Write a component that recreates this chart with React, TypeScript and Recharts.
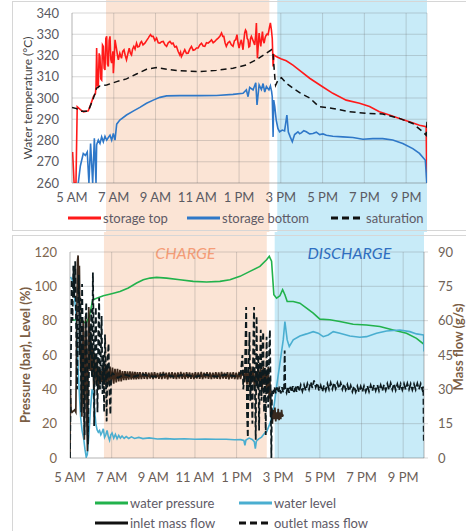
import React from 'react';
import { LineChart, Line, XAxis, YAxis, CartesianGrid, ReferenceArea, Legend } from 'recharts';

const FONT = 'Lato, "Open Sans", "DejaVu Sans", sans-serif';

// time axis (hours of the day)
const hourTicks = [5, 7, 9, 11, 13, 15, 17, 19, 21];
const hourLabels = ['5 AM', '7 AM', '9 AM', '11 AM', '1 PM', '3 PM', '5 PM', '7 PM', '9 PM'];
const chargeWindow = [6.63, 14.45];
const dischargeWindow = [14.83, 22];

const tempTicks = [260, 270, 280, 290, 300, 310, 320, 330, 340];
const pressureTicks = [0, 20, 40, 60, 80, 100, 120];
const flowTicks = [0, 15, 30, 45, 60, 75, 90];

type Row = [number, number];

// ---- storage temperatures (°C) ----
const storageTop: Row[] = [
  [5.03, 274.6], [5.1, 260], [5.19, 260], [5.25, 295.9], [5.4, 294.5], [5.55, 293.5], [5.78, 294], [5.9, 297],
  [6.02, 300.5], [6.12, 302], [6.15, 305.4], [6.18, 323.5], [6.22, 306], [6.26, 305.4], [6.3, 321], [6.34, 319.5],
  [6.38, 309], [6.42, 308.5], [6.46, 325], [6.5, 324.3], [6.54, 314], [6.58, 313.2], [6.62, 328], [6.66, 329],
  [6.7, 316], [6.74, 314.8], [6.78, 327], [6.82, 329], [6.86, 318], [6.9, 316.4], [6.96, 322], [6.98, 311.7],
  [7.02, 318], [7.06, 327.4], [7.1, 325], [7.14, 322.7], [7.18, 320], [7.22, 318], [7.29, 321.1], [7.37, 318.7],
  [7.43, 322], [7.49, 322.7], [7.55, 320], [7.61, 318], [7.68, 321], [7.74, 323.5], [7.8, 321], [7.85, 320.3],
  [7.9, 323], [7.96, 324.3], [8.02, 323], [8.09, 325.8], [8.15, 324], [8.22, 324.3], [8.28, 326], [8.33, 326.6],
  [8.4, 325], [8.49, 325.8], [8.57, 327], [8.65, 328.2], [8.7, 329], [8.76, 329.8], [8.82, 329], [8.89, 329],
  [8.97, 327], [9.05, 328.2], [9.13, 326], [9.21, 325.8], [9.29, 326.5], [9.37, 326.6], [9.45, 325], [9.53, 324.3],
  [9.61, 326], [9.69, 326.6], [9.77, 325.5], [9.84, 325.8], [9.92, 324], [10.0, 324.3], [10.08, 322], [10.16, 320.3],
  [10.2, 321.5], [10.24, 319.5], [10.32, 321], [10.4, 322.7], [10.48, 321], [10.56, 321.1], [10.64, 323], [10.72, 324.3],
  [10.8, 322.5], [10.88, 322.7], [10.96, 323.5], [11.04, 323.5], [11.12, 325], [11.2, 325.8], [11.28, 324.5], [11.36, 324.3],
  [11.44, 326], [11.52, 325.8], [11.6, 326.5], [11.68, 327.4], [11.76, 326], [11.84, 326.6], [11.92, 327.5], [12.0, 328.2],
  [12.08, 329], [12.16, 330.6], [12.22, 329], [12.27, 329], [12.33, 326], [12.39, 324.3], [12.47, 326], [12.55, 326.6],
  [12.63, 325], [12.71, 324.3], [12.78, 327], [12.84, 327.4], [12.9, 329.8], [12.95, 326], [13.0, 323.5], [13.06, 326],
  [13.11, 327.4], [13.15, 325], [13.19, 322.7], [13.23, 327], [13.27, 330.6], [13.31, 332], [13.35, 331.3], [13.39, 328],
  [13.43, 327.4], [13.47, 324], [13.51, 324.3], [13.55, 328], [13.59, 329], [13.67, 327], [13.75, 325], [13.8, 330],
  [13.83, 335.3], [13.86, 324], [13.88, 318.7], [13.92, 325], [13.96, 330.6], [14.0, 327], [14.04, 324.3], [14.08, 328],
  [14.12, 331.3], [14.16, 327], [14.2, 325.8], [14.24, 328], [14.27, 329], [14.33, 330], [14.39, 329.8], [14.45, 333],
  [14.5, 335.3], [14.55, 332], [14.59, 328], [14.63, 314.8], [14.67, 320.3], [14.78, 319.5], [15.0, 318.5], [15.26, 317.5],
  [15.58, 315.5], [15.9, 313], [16.38, 309.3], [16.98, 305.4], [17.49, 302.2], [18.13, 299], [18.77, 297.5], [19.25, 296],
  [19.72, 293.5], [20.2, 292], [20.68, 290.4], [21.16, 288.8], [21.64, 287.2], [21.96, 286.5], [21.99, 260],
];

const storageBottom: Row[] = [
  [5.3, 260], [5.4, 268], [5.54, 273.9], [5.64, 273], [5.73, 274.6], [5.81, 260], [5.89, 278.6], [5.99, 260],
  [6.07, 281], [6.15, 260], [6.18, 278], [6.26, 280.2], [6.34, 278.6], [6.42, 281.7], [6.5, 279.4], [6.58, 282],
  [6.66, 280.2], [6.74, 281.4], [6.82, 282.5], [6.9, 280.2], [6.98, 283.3], [7.06, 280.2], [7.14, 287.7], [7.29, 289.6],
  [7.61, 292], [7.93, 293.8], [8.25, 295.6], [8.57, 297.5], [8.89, 299], [9.21, 300.3], [9.53, 301], [10.16, 301.1],
  [11.12, 301.1], [11.92, 301.2], [12.71, 301.7], [13.19, 302.2], [13.35, 303.8], [13.43, 300.6], [13.51, 305], [13.67, 303.8],
  [13.8, 307.2], [13.86, 296.7], [13.96, 306.2], [14.07, 304], [14.15, 306.8], [14.23, 302.8], [14.31, 305.4], [14.43, 303.8],
  [14.5, 305.7], [14.56, 303], [14.59, 300.6], [14.63, 281.7], [14.66, 299], [14.71, 295.9], [14.78, 289.6], [14.86, 285.7],
  [14.94, 284.1], [15.07, 284.9], [15.18, 284.5], [15.29, 292], [15.36, 284], [15.45, 281.7], [15.55, 279.4], [15.66, 282.8],
  [15.82, 284.1], [15.9, 283.2], [15.98, 283.6], [16.1, 284.6], [16.22, 284.1], [16.38, 283.1], [16.54, 283.3], [16.7, 283.9],
  [16.86, 282.8], [17.02, 283.1], [17.18, 282.5], [17.49, 282], [17.97, 281.7], [18.45, 281.4], [18.93, 280.6], [19.41, 280.9],
  [19.88, 280.9], [20.36, 280.2], [20.84, 278.6], [21.32, 276.2], [21.64, 273.9], [21.92, 270.7], [21.99, 260],
];

const saturation: Row[] = [
  [5.0, 295.6], [5.22, 295], [5.4, 293.8], [5.78, 293.8], [6.02, 299.8], [6.18, 304.6], [6.34, 305.7], [6.66, 306.1],
  [7.14, 307.7], [7.61, 309], [8.09, 311.3], [8.57, 313.5], [9.05, 314.3], [9.53, 313.5], [10.16, 312.8], [11.12, 312.4],
  [11.92, 313], [12.71, 314], [13.35, 315.6], [13.83, 318], [14.31, 321.1], [14.55, 322.7], [14.63, 320.3], [14.71, 310],
  [14.75, 306], [14.87, 308.5], [15.03, 309.5], [15.26, 307], [15.58, 304.6], [15.9, 302.5], [16.38, 300], [16.82, 296],
  [17.49, 295.1], [18.29, 293.5], [19.09, 292.8], [19.88, 292.5], [20.68, 290.4], [21.32, 288], [21.8, 284.1], [21.96, 282.5],
  [22.0, 288.8],
];

// ---- pressure (bar) and level (%) ----
const waterPressure: Row[] = [
  [5.03, 80.5], [5.56, 80.1], [5.77, 78.5], [5.93, 82.4], [6.09, 92.1], [6.28, 93.1], [6.6, 94.5], [7.0, 95.7],
  [7.4, 97], [7.8, 99], [8.2, 101.9], [8.52, 103.8], [8.84, 104.8], [9.16, 105.2], [9.64, 104.8], [10.28, 103.8],
  [10.92, 102.9], [11.56, 102.5], [12.2, 102.9], [12.68, 103.8], [13.16, 105.8], [13.64, 108.7], [14.12, 111.6], [14.44, 115.5],
  [14.57, 117.5], [14.68, 114.6], [14.79, 95.1], [14.92, 93.1], [15.08, 94.5], [15.21, 98], [15.32, 95.1], [15.43, 91.2],
  [15.72, 91.2], [16.04, 90.2], [16.36, 87.3], [16.68, 84.4], [17.0, 80.9], [17.48, 80.5], [17.96, 79.5], [18.6, 77.9],
  [19.24, 77.5], [19.88, 76.6], [20.52, 74.6], [21.16, 72.7], [21.64, 69.7], [22.0, 66.2],
];

const waterLevel: Row[] = [
  [5.02, 105.5], [5.1, 104], [5.16, 100], [5.22, 93], [5.29, 84], [5.35, 66], [5.4, 50], [5.46, 35],
  [5.51, 24], [5.58, 16], [5.66, 11], [5.72, 5], [5.78, 0.5], [5.83, 2], [5.9, 12], [5.98, 28],
  [6.06, 40], [6.12, 38], [6.18, 28], [6.24, 20], [6.3, 16.5], [6.36, 15], [6.42, 16], [6.48, 13.5],
  [6.54, 15], [6.6, 17], [6.66, 12], [6.72, 13.5], [6.78, 16], [6.84, 12.5], [6.9, 10.3], [6.96, 13.5],
  [7.02, 14.5], [7.1, 11.5], [7.18, 13.8], [7.26, 11.2], [7.34, 13.2], [7.42, 11.6], [7.5, 12.8], [7.6, 11.4],
  [7.7, 12.5], [7.82, 11.4], [7.95, 12.3], [8.1, 11.4], [8.3, 12], [8.5, 11.3], [8.8, 11.7], [9.2, 11.1],
  [9.6, 11.3], [10.0, 11.0], [10.5, 11.2], [11.0, 10.9], [11.5, 11.0], [12.0, 10.9], [12.5, 10.9], [12.9, 10.6],
  [13.2, 10.7], [13.35, 10.2], [13.4, 7.4], [13.45, 10.5], [13.6, 11.6], [13.75, 10.8], [13.85, 9.5], [13.9, 5.5],
  [13.95, 9.8], [14.05, 11], [14.2, 12.2], [14.35, 14.5], [14.44, 15.2], [14.6, 20], [14.76, 26.9], [14.92, 41.5],
  [15.08, 55.1], [15.24, 68.8], [15.32, 79.5], [15.43, 68.8], [15.53, 64.9], [15.72, 68.8], [16.04, 71.1], [16.36, 72.3],
  [16.68, 73.6], [16.92, 72.7], [17.16, 70.7], [17.4, 71.7], [17.64, 73.6], [17.96, 72.7], [18.44, 71.1], [18.92, 70.3],
  [19.24, 70.7], [19.72, 72.7], [20.2, 74], [20.84, 74.6], [21.32, 73.6], [21.64, 72.3], [21.98, 71.7], [22.0, 62],
];

// ---- mass flows (g/s) ----
const inletFlow: Row[] = [
  [5.0, 0], [5.02, 28], [5.05, 21], [5.1, 20], [5.16, 20.5], [5.22, 21], [5.28, 20], [5.32, 55],
  [5.36, 86], [5.39, 88.5], [5.42, 75], [5.45, 84], [5.48, 60], [5.51, 38], [5.54, 50], [5.57, 18],
  [5.6, 32], [5.63, 60], [5.66, 45], [5.69, 8], [5.72, 38], [5.75, 62], [5.78, 50], [5.81, 15],
  [5.84, 3], [5.87, 40], [5.9, 66], [5.93, 56], [5.96, 38], [5.99, 55], [6.02, 47], [6.05, 36],
  [6.08, 50], [6.11, 40], [6.14, 30], [6.18, 46], [6.22, 38], [6.26, 32], [6.3, 44], [6.34, 36],
  [6.38, 30], [6.42, 40], [6.46, 33], [6.5, 38], [6.55, 33], [6.6, 40.5], [6.65, 32], [6.7, 41],
  [6.75, 31.5], [6.8, 40.5], [6.86, 32], [6.92, 40], [6.98, 32.5], [7.04, 39.5], [7.1, 32.5], [7.16, 39],
  [7.22, 33], [7.28, 39], [7.34, 33.5], [7.4, 38.5], [7.46, 33.5], [7.52, 38], [7.58, 34], [7.64, 38],
  [7.7, 34], [7.76, 37.8], [7.82, 34.2], [7.88, 37.8], [7.94, 34.3], [8.0, 37.7], [8.06, 34.4], [8.12, 37.6],
  [8.18, 34.4], [8.24, 37.5], [8.3, 34.5], [8.36, 37.5], [8.43, 34.5], [8.5, 37.4], [8.57, 34.6], [8.64, 37.5],
  [8.71, 34.5], [8.78, 37.3], [8.85, 34.7], [8.92, 37.4], [8.99, 34.5], [9.06, 37.5], [9.13, 34.8], [9.2, 37.2],
  [9.27, 34.6], [9.34, 37.4], [9.41, 34.5], [9.48, 37.6], [9.55, 34.7], [9.62, 37.3], [9.69, 34.4], [9.76, 37.4],
  [9.83, 34.8], [9.9, 37.5], [9.97, 34.6], [10.04, 37.3], [10.11, 34.5], [10.18, 37.4], [10.25, 34.7], [10.32, 37.6],
  [10.39, 34.6], [10.46, 37.3], [10.53, 34.5], [10.6, 37.5], [10.67, 34.8], [10.74, 37.4], [10.81, 34.6], [10.88, 37.2],
  [10.95, 34.5], [11.02, 37.5], [11.09, 34.7], [11.16, 37.4], [11.23, 34.6], [11.3, 37.6], [11.37, 34.5], [11.44, 37.3],
  [11.51, 34.8], [11.58, 37.5], [11.65, 34.6], [11.72, 37.4], [11.79, 34.5], [11.86, 37.3], [11.93, 34.7], [12.0, 37.5],
  [12.07, 34.6], [12.14, 37.4], [12.21, 34.5], [12.28, 37.6], [12.35, 34.7], [12.42, 37.3], [12.49, 34.6], [12.56, 37.5],
  [12.63, 34.4], [12.7, 37.4], [12.77, 34.7], [12.84, 37.5], [12.91, 34.5], [12.98, 37.3], [13.05, 34.4], [13.12, 37.6],
  [13.19, 34.5], [13.25, 37.5], [13.32, 38], [13.38, 33], [13.44, 39], [13.5, 32], [13.56, 38.5], [13.62, 31],
  [13.68, 40], [13.74, 33], [13.8, 39], [13.86, 30], [13.92, 38], [13.98, 33], [14.04, 41], [14.1, 31],
  [14.16, 39], [14.22, 29], [14.28, 40], [14.34, 32], [14.4, 38], [14.46, 28], [14.52, 40], [14.56, 26],
  [14.6, 35], [14.63, 18], [14.68, 22], [14.72, 15], [14.76, 21], [14.8, 17], [14.84, 22], [14.88, 16],
  [14.92, 20], [14.96, 17], [15.0, 21.5], [15.04, 16.5], [15.08, 20], [15.12, 17], [15.16, 21], [15.2, 18],
  [15.24, 19],
];

const outletFlow: Row[] = [
  [5.0, 0], [5.03, 30], [5.08, 78], [5.12, 60], [5.16, 84], [5.2, 70], [5.25, 86], [5.3, 55],
  [5.34, 30], [5.38, 62], [5.42, 80], [5.46, 45], [5.5, 70], [5.54, 20], [5.58, 76], [5.62, 50],
  [5.66, 25], [5.7, 10], [5.74, 55], [5.78, 68], [5.82, 40], [5.86, 6], [5.9, 30], [5.94, 58],
  [5.98, 45], [6.02, 65], [6.06, 35], [6.1, 81], [6.13, 60], [6.16, 14], [6.2, 48], [6.24, 66],
  [6.28, 40], [6.32, 20], [6.36, 55], [6.4, 70], [6.44, 30], [6.48, 46], [6.52, 62], [6.56, 28],
  [6.6, 45], [6.64, 20], [6.68, 54], [6.72, 40], [6.76, 16], [6.8, 42], [6.85, 50], [6.9, 28],
  [6.94, 19], [6.98, 36], [7.05, 37], [7.3, 35], [7.6, 36.5], [8.0, 35.5], [8.5, 36.5], [9.0, 35.5],
  [9.5, 36.5], [10.0, 35.5], [10.5, 36.5], [11.0, 35.5], [11.5, 36.4], [12.0, 35.6], [12.5, 36.4], [13.0, 35.6],
  [13.2, 37], [13.28, 45], [13.32, 30], [13.4, 38], [13.46, 66], [13.5, 20], [13.54, 9], [13.58, 40],
  [13.62, 55], [13.66, 25], [13.7, 38], [13.76, 15], [13.8, 50], [13.84, 66], [13.88, 30], [13.92, 8],
  [13.96, 62], [14.0, 30], [14.04, 45], [14.08, 12], [14.12, 40], [14.16, 56], [14.2, 25], [14.24, 48],
  [14.28, 55], [14.32, 20], [14.36, 40], [14.4, 10], [14.44, 53], [14.48, 35], [14.52, 22], [14.56, 45],
  [14.6, 56], [14.64, 25], [14.67, 0], [14.7, 29.7], [14.76, 28], [14.82, 31], [14.88, 28.3], [14.94, 30.8],
  [15.0, 28.5], [15.06, 31.2], [15.12, 28.2], [15.18, 30.9], [15.24, 28.6], [15.28, 30.8], [15.31, 47], [15.34, 30],
  [15.4, 28.5], [15.46, 31.3], [15.52, 28.5], [15.58, 31.1], [15.64, 28.7], [15.7, 31.4], [15.76, 28.8], [15.82, 31.5],
  [15.88, 28.9], [15.94, 31.4], [16.0, 29], [16.08, 31.8], [16.16, 29.2], [16.24, 31.9], [16.32, 29.4], [16.4, 32.4],
  [16.48, 30], [16.56, 33.2], [16.64, 30.6], [16.72, 33.9], [16.8, 30.9], [16.88, 32.8], [16.96, 29.4], [17.04, 31.6],
  [17.12, 29], [17.2, 31.8], [17.28, 29.6], [17.36, 32.4], [17.44, 30], [17.52, 32.8], [17.6, 30.2], [17.68, 33],
  [17.76, 30.4], [17.84, 32.8], [17.92, 30.3], [18.0, 32.7], [18.08, 30], [18.16, 32.4], [18.24, 29.8], [18.32, 32],
  [18.4, 29.2], [18.48, 31.6], [18.56, 29], [18.64, 31.4], [18.72, 28.9], [18.8, 31.3], [18.88, 28.8], [18.96, 31.2],
  [19.04, 28.9], [19.12, 31.4], [19.2, 29], [19.28, 31.6], [19.36, 29.1], [19.44, 31.8], [19.52, 29.3], [19.6, 31.9],
  [19.68, 29.5], [19.76, 32], [19.84, 29.4], [19.92, 31.8], [20.0, 29.3], [20.08, 32], [20.16, 29.6], [20.24, 32.4],
  [20.32, 29.8], [20.4, 32.6], [20.48, 29.9], [20.56, 32.5], [20.64, 29.7], [20.72, 32.2], [20.8, 29.6], [20.88, 32.3],
  [20.96, 29.8], [21.04, 32.4], [21.12, 29.9], [21.2, 32.5], [21.28, 30], [21.36, 32.4], [21.44, 29.8], [21.52, 32.3],
  [21.6, 29.9], [21.68, 32.5], [21.76, 30], [21.84, 32.4], [21.92, 29.9], [21.97, 31.2], [21.99, 7],
];

const toPoints = (rows: Row[]) => rows.map(([t, v]) => ({ t, v }));

const GRID = 'rgba(105,105,105,0.26)';
const PINK = '#fbe4d5';
const SKY = '#c8ebf8';

type SeriesKey = { name: string; color: string; dashed: boolean };
const tempSeries: SeriesKey[] = [
  { name: 'storage top', color: '#ff1a1a', dashed: false },
  { name: 'storage bottom', color: '#2f78c8', dashed: false },
  { name: 'saturation', color: '#111111', dashed: true },
];
const hydroSeries: SeriesKey[] = [
  { name: 'water pressure', color: '#22b24c', dashed: false },
  { name: 'water level', color: '#4aaed0', dashed: false },
  { name: 'inlet mass flow', color: '#111111', dashed: false },
  { name: 'outlet mass flow', color: '#111111', dashed: true },
];

const hourFormatter = (h: number) => {
  const i = hourTicks.indexOf(h);
  return i >= 0 ? hourLabels[i] : '';
};

function VerticalTitle(props: any) {
  const { viewBox, text, shiftX, shiftY, color, size, weight } = props;
  if (!viewBox) return null;
  const cx = viewBox.x + shiftX;
  const cy = viewBox.y + viewBox.height / 2 + shiftY;
  return (
    <text
      x={cx}
      y={cy}
      transform={`rotate(-90 ${cx} ${cy})`}
      textAnchor="middle"
      dominantBaseline="central"
      fill={color}
      fontSize={size}
      fontWeight={weight}
      fontFamily={FONT}
    >
      {text}
    </text>
  );
}

function PhaseTitle(props: any) {
  const { viewBox, text, color } = props;
  if (!viewBox) return null;
  return (
    <text
      x={viewBox.x + viewBox.width / 2}
      y={viewBox.y + 21}
      textAnchor="middle"
      dominantBaseline="central"
      fill={color}
      fontSize={16}
      fontStyle="italic"
      fontFamily={FONT}
    >
      {text}
    </text>
  );
}

function KeyItem({ item, left, top }: { item: SeriesKey; left: number; top: number }) {
  return (
    <div style={{ position: 'absolute', left, top, height: 18, display: 'flex', alignItems: 'center', whiteSpace: 'nowrap' }}>
      <svg width={33} height={6} style={{ display: 'block' }}>
        <line x1={0} y1={3} x2={33} y2={3} stroke={item.color} strokeWidth={3} strokeDasharray={item.dashed ? '7 4' : undefined} />
      </svg>
      <span style={{ marginLeft: 2, fontSize: 13, lineHeight: '18px', color: '#5e5a66', fontFamily: FONT }}>{item.name}</span>
    </div>
  );
}

const TempKey = () => (
  <div style={{ position: 'relative', width: 454, height: 18 }}>
    <KeyItem item={tempSeries[0]} left={56} top={0} />
    <KeyItem item={tempSeries[1]} left={175} top={0} />
    <KeyItem item={tempSeries[2]} left={319} top={0} />
  </div>
);

const HydroKey = () => (
  <div style={{ position: 'relative', width: 454, height: 38 }}>
    <KeyItem item={hydroSeries[0]} left={83} top={0} />
    <KeyItem item={hydroSeries[1]} left={227} top={0} />
    <KeyItem item={hydroSeries[2]} left={83} top={20} />
    <KeyItem item={hydroSeries[3]} left={227} top={20} />
  </div>
);

export default function App() {
  return (
    <div style={{ position: 'absolute', left: 0, top: 0, width: 466, height: 531, background: '#ffffff', overflow: 'hidden', fontFamily: FONT }}>
      {/* storage temperatures */}
      <div style={{ position: 'absolute', left: 12, top: 0 }}>
        <LineChart width={454} height={232} margin={{ top: 13, right: 39, bottom: 24, left: 0 }}>
          <ReferenceArea x1={chargeWindow[0]} x2={chargeWindow[1]} y1={236.5} y2={346.5} fill={PINK} fillOpacity={1} stroke="none" ifOverflow="visible" zIndex={-200} />
          <ReferenceArea x1={dischargeWindow[0]} x2={dischargeWindow[1]} y1={236.5} y2={346.5} fill={SKY} fillOpacity={1} stroke="none" ifOverflow="visible" zIndex={-200} />
          <CartesianGrid stroke={GRID} strokeWidth={1} />
          <XAxis
            type="number"
            dataKey="t"
            domain={[5, 22]}
            ticks={hourTicks}
            interval={0}
            tickFormatter={hourFormatter}
            tickLine={false}
            tickSize={0}
            tickMargin={10}
            height={25}
            axisLine={{ stroke: GRID }}
            tick={{ fill: '#5a5a62', fontSize: 13, fontFamily: FONT }}
            allowDataOverflow
          />
          <YAxis
            type="number"
            domain={[260, 340]}
            ticks={tempTicks}
            interval={0}
            width={60}
            tickLine={false}
            tickSize={0}
            tickMargin={13}
            axisLine={{ stroke: GRID }}
            tick={{ fill: '#5a5a62', fontSize: 13, fontFamily: FONT }}
            allowDataOverflow
            label={(p: any) => (
              <VerticalTitle viewBox={p.viewBox} text="Water temperature (°C)" shiftX={15} shiftY={0} color="#434343" size={12} weight={400} />
            )}
          />
          <Line data={toPoints(storageTop)} dataKey="v" name={tempSeries[0].name} stroke={tempSeries[0].color} strokeWidth={1.6} dot={false} activeDot={false} isAnimationActive={false} />
          <Line data={toPoints(storageBottom)} dataKey="v" name={tempSeries[1].name} stroke={tempSeries[1].color} strokeWidth={1.6} dot={false} activeDot={false} isAnimationActive={false} />
          <Line data={toPoints(saturation)} dataKey="v" name={tempSeries[2].name} stroke={tempSeries[2].color} strokeWidth={1.5} strokeDasharray="6 4" dot={false} activeDot={false} isAnimationActive={false} />
          <Legend verticalAlign="middle" align="center" layout="horizontal" content={() => <TempKey />} wrapperStyle={{ top: 209, left: 0, width: 454, height: 18 }} />
        </LineChart>
      </div>

      {/* pressure, level and mass flows */}
      <div style={{ position: 'absolute', left: 12, top: 232 }}>
        <LineChart width={454} height={299} margin={{ top: 20, right: 0, bottom: 43, left: 0 }}>
          <ReferenceArea yAxisId="left" x1={chargeWindow[0]} x2={chargeWindow[1]} y1={0} y2={132} fill={PINK} fillOpacity={1} stroke="none" ifOverflow="visible" zIndex={-200}
            label={(p: any) => <PhaseTitle viewBox={p.viewBox} text="CHARGE" color="#f59d78" />} />
          <ReferenceArea yAxisId="left" x1={dischargeWindow[0]} x2={dischargeWindow[1]} y1={0} y2={132} fill={SKY} fillOpacity={1} stroke="none" ifOverflow="visible" zIndex={-200}
            label={(p: any) => <PhaseTitle viewBox={p.viewBox} text="DISCHARGE" color="#2f6fc2" />} />
          <CartesianGrid yAxisId="left" stroke={GRID} strokeWidth={1} />
          <XAxis
            type="number"
            dataKey="t"
            domain={[5, 22]}
            ticks={hourTicks}
            interval={0}
            tickFormatter={hourFormatter}
            tickLine={false}
            tickSize={0}
            tickMargin={15}
            height={30}
            axisLine={{ stroke: GRID }}
            tick={{ fill: '#6b5e58', fontSize: 13, fontFamily: FONT }}
            allowDataOverflow
          />
          <YAxis
            yAxisId="left"
            type="number"
            domain={[0, 120]}
            ticks={pressureTicks}
            interval={0}
            width={58}
            tickLine={false}
            tickSize={0}
            tickMargin={13}
            axisLine={{ stroke: GRID }}
            tick={{ fill: '#7d664f', fontSize: 13, fontFamily: FONT }}
            allowDataOverflow
            label={(p: any) => (
              <VerticalTitle viewBox={p.viewBox} text="Pressure (bar), Level (%)" shiftX={13} shiftY={0} color="#7b5e45" size={13} weight={700} />
            )}
          />
          <YAxis
            yAxisId="right"
            orientation="right"
            type="number"
            domain={[0, 90]}
            ticks={flowTicks}
            interval={0}
            width={42}
            tickSize={4}
            tickMargin={10}
            tickLine={{ stroke: GRID }}
            axisLine={{ stroke: GRID }}
            tick={{ fill: '#6f6358', fontSize: 13, fontFamily: FONT }}
            allowDataOverflow
            label={(p: any) => (
              <VerticalTitle viewBox={p.viewBox} text="Mass flow (g/s)" shiftX={34} shiftY={-8} color="#7b5e45" size={13} weight={700} />
            )}
          />
          <Line yAxisId="left" data={toPoints(waterPressure)} dataKey="v" name={hydroSeries[0].name} stroke={hydroSeries[0].color} strokeWidth={1.6} dot={false} activeDot={false} isAnimationActive={false} />
          <Line yAxisId="left" data={toPoints(waterLevel)} dataKey="v" name={hydroSeries[1].name} stroke={hydroSeries[1].color} strokeWidth={1.6} dot={false} activeDot={false} isAnimationActive={false} />
          <Line yAxisId="right" data={toPoints(inletFlow)} dataKey="v" name={hydroSeries[2].name} stroke="#2a180c" strokeOpacity={0.92} strokeWidth={1.7} dot={false} activeDot={false} isAnimationActive={false} />
          <Line yAxisId="right" data={toPoints(outletFlow)} dataKey="v" name={hydroSeries[3].name} stroke="#0d1a1e" strokeWidth={1.8} strokeDasharray="6 3" dot={false} activeDot={false} isAnimationActive={false} />
          <Legend verticalAlign="middle" align="center" layout="horizontal" content={() => <HydroKey />} wrapperStyle={{ top: 262, left: 0, width: 454, height: 38 }} />
        </LineChart>
      </div>

      {/* panel frames */}
      <div style={{ position: 'absolute', left: 12, top: 1, width: 470, height: 230, border: '1px solid #d6d6d6', boxSizing: 'border-box', pointerEvents: 'none' }} />
      <div style={{ position: 'absolute', left: 12, top: 235, width: 470, height: 310, border: '1px solid #d6d6d6', boxSizing: 'border-box', pointerEvents: 'none' }} />
    </div>
  );
}
